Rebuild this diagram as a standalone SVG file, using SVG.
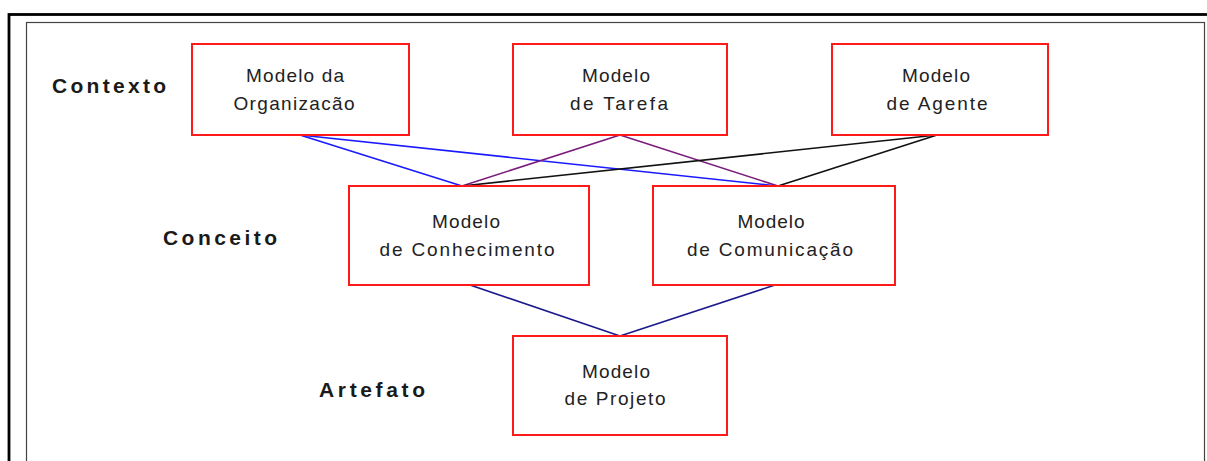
<svg xmlns="http://www.w3.org/2000/svg" width="1207" height="461" viewBox="0 0 1207 461">
  <defs>
    <style>
      .frame-outer { fill: none; stroke: #000; stroke-width: 2.8; }
      .frame-inner { fill: none; stroke: #444; stroke-width: 1.2; }
      .box { fill: #fff; stroke: #ff1a1a; stroke-width: 2; }
      .lbl { font-family: "Liberation Sans", Arial, sans-serif; font-size: 19px; fill: #222; text-anchor: middle; }
      .tier { font-family: "Liberation Sans", Arial, sans-serif; font-size: 21px; font-weight: bold; fill: #1a1a1a; }
      .c-org { stroke: #1a1aff; }
      .c-tar { stroke: #7a1a7a; }
      .c-age { stroke: #111; }
      .c-prj { stroke: #1a1a8c; }
      #connectors line { stroke-width: 1.6; fill: none; }
    </style>
  </defs>

  <rect width="1207" height="461" fill="#fff"/>

  <!-- page frame -->
  <rect class="frame-outer" x="9" y="14.5" width="1230" height="480"/>
  <rect class="frame-inner" x="26.5" y="22.5" width="1178" height="470"/>

  <!-- tier labels -->
  <text class="tier" x="52" y="93" textLength="114" lengthAdjust="spacing">Contexto</text>
  <text class="tier" x="163" y="245" textLength="114" lengthAdjust="spacing">Conceito</text>
  <text class="tier" x="319" y="397" textLength="106" lengthAdjust="spacing">Artefato</text>

  <!-- connectors -->
  <g id="connectors">
    <line class="c-org" x1="300" y1="135" x2="462" y2="186"/>
    <line class="c-org" x1="300" y1="135" x2="778" y2="186"/>
    <line class="c-tar" x1="620" y1="135" x2="462" y2="186"/>
    <line class="c-tar" x1="620" y1="135" x2="778" y2="186"/>
    <line class="c-age" x1="937" y1="135" x2="462" y2="186"/>
    <line class="c-age" x1="937" y1="135" x2="778" y2="186"/>
    <line class="c-prj" x1="470" y1="285" x2="620" y2="336"/>
    <line class="c-prj" x1="775" y1="285" x2="620" y2="336"/>
  </g>

  <g id="node-organizacao">
    <rect class="box" x="192" y="44" width="217" height="91"/>
    <text class="lbl" x="295" y="82" textLength="98" lengthAdjust="spacing">Modelo da</text>
    <text class="lbl" x="294" y="110" textLength="121" lengthAdjust="spacing">Organizacão</text>
  </g>

  <g id="node-tarefa">
    <rect class="box" x="513" y="44" width="214" height="91"/>
    <text class="lbl" x="616" y="82" textLength="68" lengthAdjust="spacing">Modelo</text>
    <text class="lbl" x="619" y="110" textLength="98" lengthAdjust="spacing">de Tarefa</text>
  </g>

  <g id="node-agente">
    <rect class="box" x="832" y="44" width="216" height="91"/>
    <text class="lbl" x="936" y="82" textLength="68" lengthAdjust="spacing">Modelo</text>
    <text class="lbl" x="937" y="110" textLength="101" lengthAdjust="spacing">de Agente</text>
  </g>

  <g id="node-conhecimento">
    <rect class="box" x="349" y="186" width="240" height="99"/>
    <text class="lbl" x="466" y="228" textLength="68" lengthAdjust="spacing">Modelo</text>
    <text class="lbl" x="467" y="256" textLength="175" lengthAdjust="spacing">de Conhecimento</text>
  </g>

  <g id="node-comunicacao">
    <rect class="box" x="653" y="186" width="242" height="99"/>
    <text class="lbl" x="771" y="228" textLength="67" lengthAdjust="spacing">Modelo</text>
    <text class="lbl" x="770" y="256" textLength="166" lengthAdjust="spacing">de Comunicação</text>
  </g>

  <g id="node-projeto">
    <rect class="box" x="513" y="336" width="214" height="99"/>
    <text class="lbl" x="616" y="378" textLength="68" lengthAdjust="spacing">Modelo</text>
    <text class="lbl" x="615" y="405" textLength="101" lengthAdjust="spacing">de Projeto</text>
  </g>
</svg>
